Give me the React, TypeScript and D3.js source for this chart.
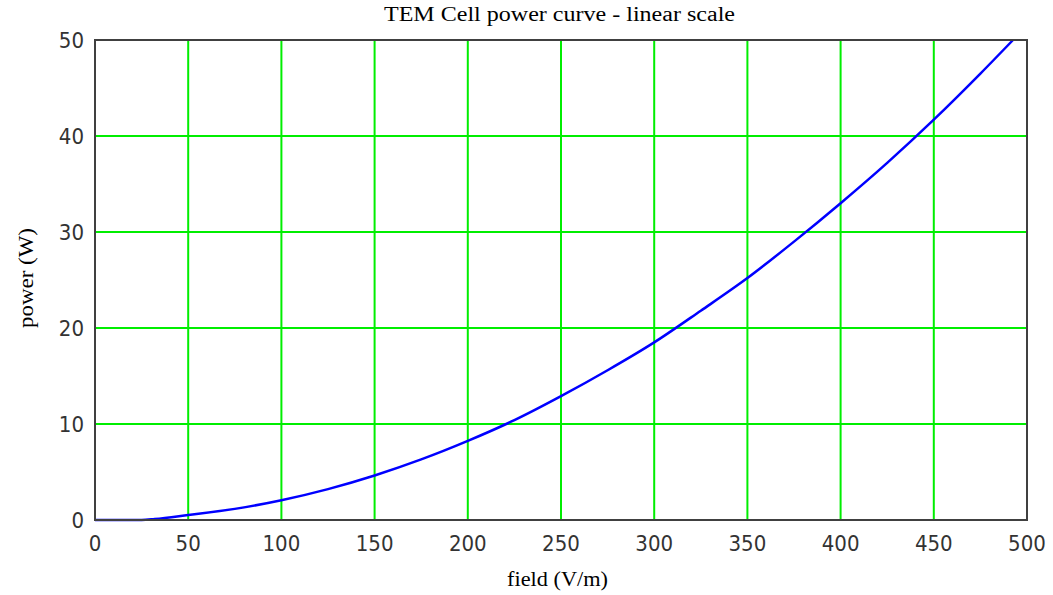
import React from "react";
import * as d3 from "d3";

const fieldValues = [0, 25, 32, 50, 75, 100, 125, 150, 175, 200, 225, 250, 275, 300, 325, 350, 375, 400, 425, 450, 475, 492.5];
const powerValues = [0, 0, 0.1, 0.52, 1.16, 2.06, 3.22, 4.64, 6.31, 8.24, 10.4, 12.9, 15.6, 18.5, 21.8, 25.2, 29.0, 33.0, 37.2, 41.7, 46.5, 50.0];
const xTicks = [0, 50, 100, 150, 200, 250, 300, 350, 400, 450, 500];
const yTicks = [0, 10, 20, 30, 40, 50];
const title = "TEM Cell power curve - linear scale";
const xLabel = "field (V/m)";
const yLabel = "power (W)";

export default function App() {
  const W = 1053, H = 595;
  const left = 95, right = 1027, top = 40, bottom = 520;
  const x = d3.scaleLinear().domain([0, 500]).range([left, right]);
  const y = d3.scaleLinear().domain([0, 50]).range([bottom, top]);
  const pts = fieldValues.map((f, i) => [f, powerValues[i]] as [number, number]);
  const line = d3.line<[number, number]>().x(d => x(d[0])).y(d => y(d[1])).curve(d3.curveMonotoneX);
  const tickFont = "'Liberation Sans Narrow', 'DejaVu Sans Condensed', sans-serif";
  const serif = "'Liberation Serif', 'DejaVu Serif', serif";
  return (
    <svg width={W} height={H} style={{ position: "absolute", left: 0, top: 0, background: "#fff" }}>
      <rect x={0} y={0} width={W} height={H} fill="#fff" />
      {xTicks.slice(1, -1).map(t => (
        <line key={"gx" + t} x1={x(t)} x2={x(t)} y1={top} y2={bottom} stroke="#00ee00" strokeWidth={2} />
      ))}
      {yTicks.slice(1, -1).map(t => (
        <line key={"gy" + t} x1={left} x2={right} y1={y(t)} y2={y(t)} stroke="#00ee00" strokeWidth={2} />
      ))}
      <path d={line(pts) || ""} fill="none" stroke="#0000ff" strokeWidth={2.5} />
      <rect x={left} y={top} width={right - left} height={bottom - top} fill="none" stroke="#404040" strokeWidth={2} />
      {xTicks.map(t => (
        <text key={"tx" + t} x={x(t)} y={551} textAnchor="middle" fontFamily={tickFont} fontSize={22} fill="#333">{t}</text>
      ))}
      {yTicks.map(t => (
        <text key={"ty" + t} x={84} y={y(t) + 8} textAnchor="end" fontFamily={tickFont} fontSize={22} fill="#333">{t}</text>
      ))}
      <text x={384} y={21} fontFamily={serif} fontSize={20} fill="#000" textLength={351} lengthAdjust="spacingAndGlyphs">{title}</text>
      <text x={507} y={586} fontFamily={serif} fontSize={20} fill="#000" textLength={101} lengthAdjust="spacingAndGlyphs">{xLabel}</text>
      <text transform={`translate(33,328) rotate(-90)`} fontFamily={serif} fontSize={20} fill="#000" textLength={100} lengthAdjust="spacingAndGlyphs">{yLabel}</text>
    </svg>
  );
}
